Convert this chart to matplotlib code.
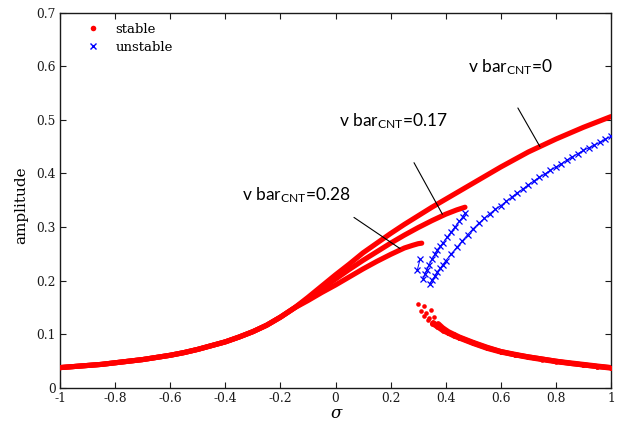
import matplotlib
matplotlib.use("Agg")
import matplotlib.pyplot as plt
from matplotlib.lines import Line2D

plt.rcParams['axes.unicode_minus'] = False
plt.rcParams['mathtext.fontset'] = 'custom'
plt.rcParams['mathtext.rm'] = 'Lato'
plt.rcParams['mathtext.it'] = 'Lato:italic'

# ---------------- data ----------------
# shared low-frequency part of the three upper stable branches
sig_common = [-1.00, -0.95, -0.90, -0.85, -0.80, -0.75, -0.70, -0.65, -0.60, -0.55,
              -0.50, -0.45, -0.40, -0.35, -0.30, -0.25, -0.20, -0.15]
amp_common = [0.038, 0.040, 0.042, 0.044, 0.047, 0.050, 0.053, 0.057, 0.061, 0.066,
              0.072, 0.079, 0.086, 0.095, 0.105, 0.117, 0.132, 0.149]

# upper stable branches
sig_up_0 = [-0.10, -0.05, 0.00, 0.05, 0.10, 0.15, 0.20, 0.25, 0.30, 0.35, 0.40, 0.45,
            0.50, 0.55, 0.60, 0.65, 0.70, 0.75, 0.80, 0.85, 0.90, 0.95, 1.00]
amp_up_0 = [0.169, 0.190, 0.211, 0.231, 0.252, 0.270, 0.288, 0.305, 0.321, 0.337, 0.352, 0.367,
            0.382, 0.397, 0.412, 0.426, 0.440, 0.452, 0.464, 0.475, 0.486, 0.496, 0.506]

sig_up_17 = [-0.10, -0.05, 0.00, 0.05, 0.10, 0.15, 0.20, 0.25, 0.30, 0.35, 0.40, 0.44, 0.47]
amp_up_17 = [0.166, 0.185, 0.203, 0.221, 0.238, 0.254, 0.270, 0.285, 0.299, 0.312, 0.324, 0.332, 0.337]

sig_up_28 = [-0.10, -0.05, 0.00, 0.05, 0.10, 0.15, 0.20, 0.25, 0.28, 0.30, 0.313]
amp_up_28 = [0.163, 0.178, 0.192, 0.207, 0.222, 0.236, 0.249, 0.261, 0.266, 0.269, 0.270]

# unstable branches
sig_un_0 = [0.343, 0.35, 0.36, 0.37, 0.38, 0.39, 0.40, 0.42, 0.44, 0.46, 0.48, 0.50, 0.52,
            0.54, 0.56, 0.58, 0.60, 0.62, 0.64, 0.66, 0.68, 0.70, 0.72, 0.74, 0.76, 0.78,
            0.80, 0.82, 0.84, 0.86, 0.88, 0.90, 0.92, 0.94, 0.96, 0.98, 1.00]
amp_un_0 = [0.194, 0.201, 0.208, 0.216, 0.223, 0.230, 0.237, 0.250, 0.262, 0.274, 0.286, 0.297, 0.307,
            0.316, 0.325, 0.333, 0.340, 0.348, 0.356, 0.364, 0.371, 0.379, 0.386, 0.393, 0.399, 0.406,
            0.412, 0.418, 0.425, 0.431, 0.437, 0.443, 0.448, 0.453, 0.458, 0.464, 0.469]

sig_un_17 = [0.319, 0.325, 0.331, 0.340, 0.350, 0.360, 0.370, 0.380, 0.391, 0.405, 0.420,
             0.435, 0.450, 0.462, 0.470]
amp_un_17 = [0.204, 0.213, 0.220, 0.230, 0.240, 0.249, 0.257, 0.264, 0.271, 0.281, 0.291,
             0.301, 0.311, 0.319, 0.326]

sig_un_28 = [0.297, 0.307]
amp_un_28 = [0.220, 0.240]

# lower stable branches
sig_lo_0 = [0.347, 0.358, 0.373, 0.39, 0.41, 0.43, 0.45, 0.50, 0.55, 0.60, 0.65, 0.70,
            0.75, 0.80, 0.85, 0.90, 0.95, 1.00]
amp_lo_0 = [0.145, 0.133, 0.120, 0.112, 0.105, 0.100, 0.095, 0.085, 0.076, 0.068, 0.063, 0.058,
            0.054, 0.050, 0.047, 0.044, 0.041, 0.038]

sig_lo_17 = [0.321, 0.328, 0.340, 0.355, 0.37, 0.39, 0.41, 0.43, 0.45, 0.50, 0.55, 0.60,
             0.65, 0.70, 0.75, 0.80, 0.85, 0.90, 0.95, 1.00]
amp_lo_17 = [0.153, 0.140, 0.130, 0.122, 0.116, 0.109, 0.103, 0.098, 0.094, 0.084, 0.075, 0.068,
             0.062, 0.058, 0.054, 0.050, 0.046, 0.043, 0.040, 0.038]

sig_lo_28 = [0.300, 0.310, 0.322, 0.337, 0.352, 0.37, 0.39, 0.41, 0.43, 0.45, 0.50, 0.55,
             0.60, 0.65, 0.70, 0.75, 0.80, 0.85, 0.90, 0.95, 1.00]
amp_lo_28 = [0.157, 0.144, 0.135, 0.127, 0.120, 0.114, 0.107, 0.102, 0.097, 0.093, 0.083, 0.074,
             0.067, 0.062, 0.057, 0.053, 0.049, 0.046, 0.043, 0.040, 0.037]

x_ticks = [-1, -0.8, -0.6, -0.4, -0.2, 0, 0.2, 0.4, 0.6, 0.8, 1]
x_tick_labels = ['-1', '-0.8', '-0.6', '-0.4', '-0.2', '0', '0.2', '0.4', '0.6', '0.8', '1']
y_ticks = [0, 0.1, 0.2, 0.3, 0.4, 0.5, 0.6, 0.7]
y_tick_labels = ['0', '0.1', '0.2', '0.3', '0.4', '0.5', '0.6', '0.7']

labels_text = [r'v bar$_{\mathrm{CNT}}$=0', r'v bar$_{\mathrm{CNT}}$=0.17', r'v bar$_{\mathrm{CNT}}$=0.28']

# ---------------- figure ----------------
RED = '#ff0000'
BLUE = '#0000ff'
W, H = 619, 421
fig = plt.figure(figsize=(W / 100, H / 100), dpi=100)
ax = fig.add_axes([60 / W, 1 - 388 / H, 551 / W, 375.5 / H])

up_lw = 3.7
dot_ms = 3.3

for s_up, a_up in [(sig_up_0, amp_up_0), (sig_up_17, amp_up_17), (sig_up_28, amp_up_28)]:
    s = sig_common + s_up
    a = amp_common + a_up
    ax.plot(s, a, '-', color=RED, lw=up_lw, solid_capstyle='round', solid_joinstyle='round', zorder=3)

for s_lo, a_lo, k in [(sig_lo_0, amp_lo_0, 2), (sig_lo_17, amp_lo_17, 3), (sig_lo_28, amp_lo_28, 4)]:
    ax.plot(s_lo, a_lo, 'o', color=RED, ms=dot_ms, mew=0, zorder=3)
    ax.plot(s_lo[k:], a_lo[k:], '-', color=RED, lw=up_lw, solid_capstyle='round',
            solid_joinstyle='round', zorder=3)

for s_un, a_un in [(sig_un_0, amp_un_0), (sig_un_17, amp_un_17), (sig_un_28, amp_un_28)]:
    ax.plot(s_un, a_un, linestyle='-', lw=0.7, color=BLUE, marker='x', ms=4.2, mew=0.9, zorder=4)

ax.set_xlim(-1, 1)
ax.set_ylim(0, 0.7)
ax.set_xticks(x_ticks)
ax.set_xticklabels(x_tick_labels)
ax.set_yticks(y_ticks)
ax.set_yticklabels(y_tick_labels)

for lab in ax.get_xticklabels() + ax.get_yticklabels():
    lab.set_fontfamily('DejaVu Serif')
    lab.set_fontsize(8.8)
ax.tick_params(direction='in', top=True, right=True, length=4, width=0.8, pad=3, colors='#1a1a1a')
for sp in ax.spines.values():
    sp.set_linewidth(1.0)
    sp.set_color('#1a1a1a')

fig.text(21 / W, 1 - 205 / H, 'amplitude', rotation=90, ha='center', va='center',
         family='DejaVu Serif', fontsize=11)
fig.text(336 / W, 1 - 404.5 / H, 'σ', ha='center', va='top', fontsize=12,
         family='DejaVu Serif', style='italic')

# legend
handles = [Line2D([], [], color=RED, marker='o', ls='none', ms=4, mew=0),
           Line2D([], [], color=BLUE, marker='x', ls='none', ms=4, mew=1)]
ax.legend(handles, ['stable', 'unstable'], loc='upper left',
          bbox_to_anchor=((86.5 - 60) / 551, (388 - 23) / 375.5),
          frameon=False, borderpad=0, borderaxespad=0, handlelength=1.0,
          handletextpad=1.2, labelspacing=0.35, prop=dict(family='DejaVu Serif', size=9.5))

# curve labels with pointer lines
ann_font = dict(family='Lato', fontsize=12.5)
ax.text(0.481, 0.588, labels_text[0], ha='left', va='baseline', **ann_font)
ax.text(0.014, 0.487, labels_text[1], ha='left', va='baseline', **ann_font)
ax.text(-0.340, 0.350, labels_text[2], ha='left', va='baseline', **ann_font)
arrow = dict(arrowstyle='-', lw=0.8, color='black', shrinkA=0, shrinkB=0)
ax.annotate('', xy=(0.742, 0.450), xytext=(0.662, 0.522), arrowprops=arrow)
ax.annotate('', xy=(0.388, 0.324), xytext=(0.285, 0.420), arrowprops=arrow)
ax.annotate('', xy=(0.234, 0.260), xytext=(0.067, 0.318), arrowprops=arrow)

fig.savefig('out.png', dpi=100)
